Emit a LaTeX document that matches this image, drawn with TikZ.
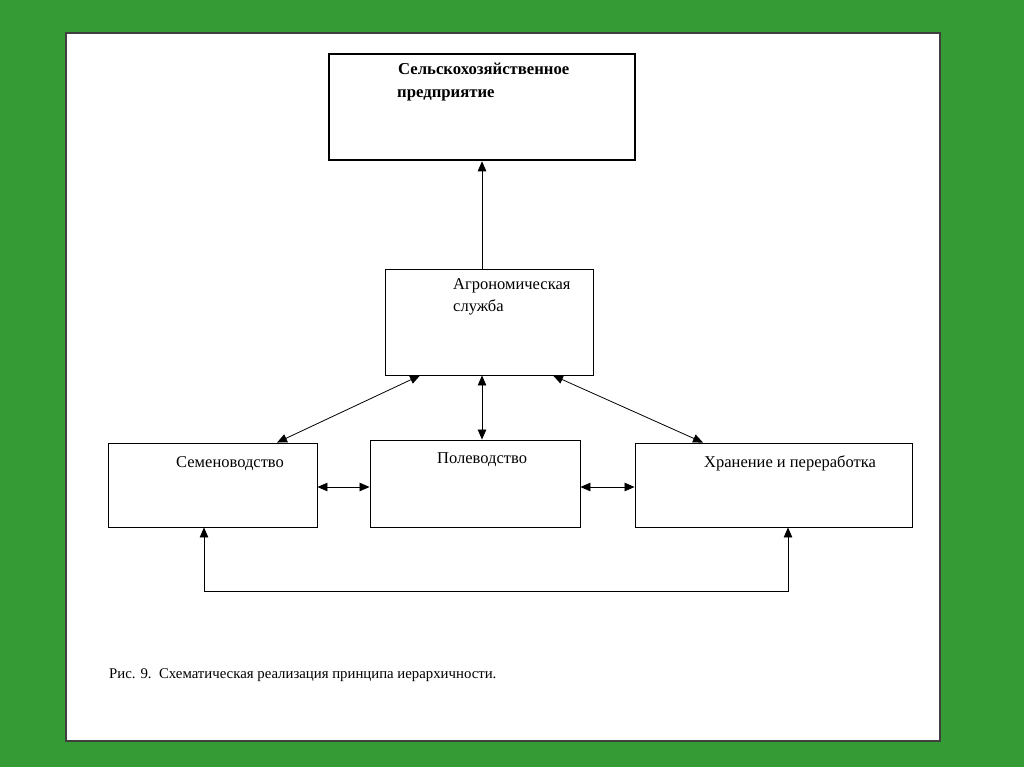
\documentclass[tikz,border=0pt]{standalone}
\usepackage{fontspec}
\setmainfont{Liberation Serif}
\usetikzlibrary{calc,positioning,arrows.meta}
\definecolor{bg}{RGB}{53,156,53}
\tikzset{>={Triangle[length=10pt,width=8.5pt]}}

\begin{document}
\begin{tikzpicture}[x=1pt,y=-1pt]
        \tikzset{
        box/.style={draw, line width=0.9pt, rectangle, inner sep=0pt},
        boldbox/.style={box, line width=2.6pt},
        label/.style={anchor=base west, inner sep=0pt, font=\fontsize{16.5}{19}\selectfont},
        link/.style={line width=0.8pt},
        }

        % Background and page.
        \fill[bg] (0,0) rectangle (1024,767);
        \fill[white, draw=black!75, line width=1.2pt] (66,33) rectangle (940,741);
        \useasboundingbox (0,0) rectangle (1024,767);

        % Boxes.
        \node[boldbox, minimum width=306, minimum height=106] (firm) at (482,107)   {};
        \node[box, minimum width=208, minimum height=106]     (agro) at (489,322)   {};
        \node[box, minimum width=209, minimum height=84]      (seed) at (212.5,485) {};
        \node[box, minimum width=210, minimum height=87]      (field) at (475,483.5) {};
        \node[box, minimum width=277, minimum height=84]      (store) at (773.5,485) {};

        % Texts.
        \path (398,75)  node[label, font=\fontsize{16.7}{19}\bfseries] (firm1) {Сельскохозяйственное};
        \path (397,98)  node[label, font=\fontsize{16.7}{19}\bfseries] (firm2) {предприятие};
        \path (453,289) node[label] (agro1) {Агрономическая};
        \path (453,311) node[label] (agro2) {служба};
        \path (176,467) node[label] (seed1) {Семеноводство};
        \path (437,463) node[label] (field1) {Полеводство};
        \path (704,467) node[label] (store1) {Хранение и переработка};
        \path (109,678) node[label, font=\fontsize{14.8}{17}\selectfont] (caption) {Рис. 9.\ \ Схематическая реализация принципа иерархичности.};

        % Links.
        \draw[link,->] (agro.north -| firm.south) -- (firm.south);
        \draw[link,<->] ([xshift=-69pt]agro.south) -- ([xshift=64.5pt]seed.north);
        \draw[link,<->] ([xshift=-7pt]agro.south) -- ([xshift=7pt]field.north);
        \draw[link,<->] ([xshift=64pt]agro.south) -- ([xshift=-70.5pt]store.north);
        \draw[link,<->] ([yshift=-2pt]seed.east) -- ([yshift=-2pt]seed.east -| field.west);
        \draw[link,<->] ([yshift=-3.5pt]field.east) -- ([yshift=-3.5pt]field.east -| store.west);
        \coordinate (bl) at ([xshift=-8.5pt]seed.south |- 0,591);
        \coordinate (br) at ([xshift=14.5pt]store.south |- 0,591);
        \draw[link,<->] ([xshift=-8.5pt]seed.south) -- (bl) -- (br) -- ([xshift=14.5pt]store.south);
\end{tikzpicture}
\end{document}
